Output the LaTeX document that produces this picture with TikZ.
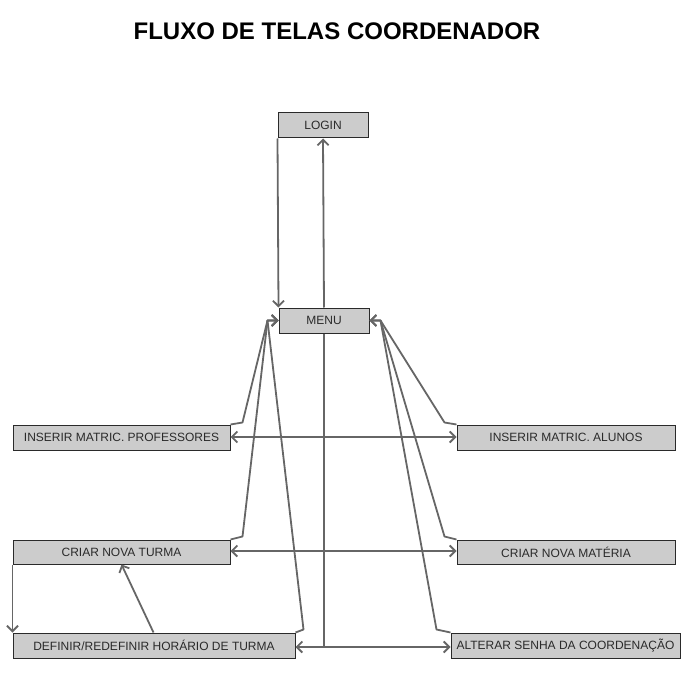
\documentclass[tikz,border=0pt]{standalone}
\usepackage{fontspec}
\setmainfont{Liberation Sans}
\usetikzlibrary{arrows.meta,calc}
\definecolor{boxfill}{HTML}{CCCCCC}
\definecolor{boxline}{HTML}{2A2A2A}
\definecolor{conn}{HTML}{666666}
\definecolor{txt}{HTML}{2A2A2A}
\tikzset{
  screen/.style={draw=boxline, fill=boxfill, line width=1pt, inner sep=0pt,
    minimum height=25pt, text=txt, font=\fontsize{12}{14}\selectfont},
  link/.style={draw=conn, line width=1.8pt, line join=round},
  arr/.style={link, -{Straight Barb[length=5.5pt,width=11pt,line width=1.8pt]}},
  biarr/.style={link, {Straight Barb[length=5.5pt,width=11pt,line width=1.8pt]}-{Straight Barb[length=5.5pt,width=11pt,line width=1.8pt]}}
}
\begin{document}
\begin{tikzpicture}[x=1pt,y=-1pt]
\useasboundingbox (0,0) rectangle (700,700);
\node[font=\bfseries\fontsize{24}{27}\selectfont] (title) at (337,31) {FLUXO DE TELAS COORDENADOR};

\node[screen, minimum width=90pt] (login) at (323,125.5) {LOGIN};
\node[screen, minimum width=90pt] (menu) at (324,320.5) {MENU};
\node[screen, minimum width=217pt] (prof) at (121.5,437.5) {INSERIR MATRIC. PROFESSORES};
\node[screen, minimum width=218pt] (alunos) at (566,437.5) {INSERIR MATRIC. ALUNOS};
\node[screen, minimum width=217pt, minimum height=24pt] (turma) at (121.5,552) {CRIAR NOVA TURMA};
\node[screen, minimum width=218pt, minimum height=24pt] (materia) at (566,552) {CRIAR NOVA MATÉRIA};
\node[screen, minimum width=282pt] (definir) at (154,645.5) {DEFINIR/REDEFINIR HORÁRIO DE TURMA};
\node[screen, minimum width=229pt] (alterar) at (565.5,645.5) {ALTERAR SENHA DA COORDENAÇÃO};

\coordinate (mL) at ($(menu.west)+(-11,0)$);
\coordinate (mR) at ($(menu.east)+(11,0)$);
\coordinate (j) at (menu.south |- 0,647);

% login <-> menu
\draw[arr] (login.south west) -- (menu.north west);
\draw[arr] (menu.north) -- (login.south);

% menu down to bottom row
\draw[link] (menu.south) -- (j);
\draw[arr] (j) -- (definir.east |- j);
\draw[arr] (j) -- (alterar.west |- j);

% left fan into menu
\draw[arr] (prof.north east) -- ++(12,-2) -- (mL) -- (menu.west);
\draw[arr] (turma.north east) -- ++(12,-3) -- (mL) -- (menu.west);
\draw[arr] (definir.north east) -- ++(8,-3) -- (mL) -- (menu.west);

% right fan into menu
\draw[arr] (alunos.north west) -- ++(-12,-2) -- (mR) -- (menu.east);
\draw[arr] (materia.north west) -- ++(-12,-3) -- (mR) -- (menu.east);
\draw[arr] (alterar.north west) -- ++(-14,-3) -- (mR) -- (menu.east);

% horizontal links
\draw[biarr] (prof.east |- 0,437) -- (alunos.west |- 0,437);
\draw[biarr] (turma.east |- 0,551) -- (materia.west |- 0,551);

% turma <-> definir
\draw[arr] (turma.south west) -- (definir.north west);
\draw[arr] ([xshift=141pt]definir.north west) -- ([xshift=109pt]turma.south west);
\end{tikzpicture}
\end{document}
